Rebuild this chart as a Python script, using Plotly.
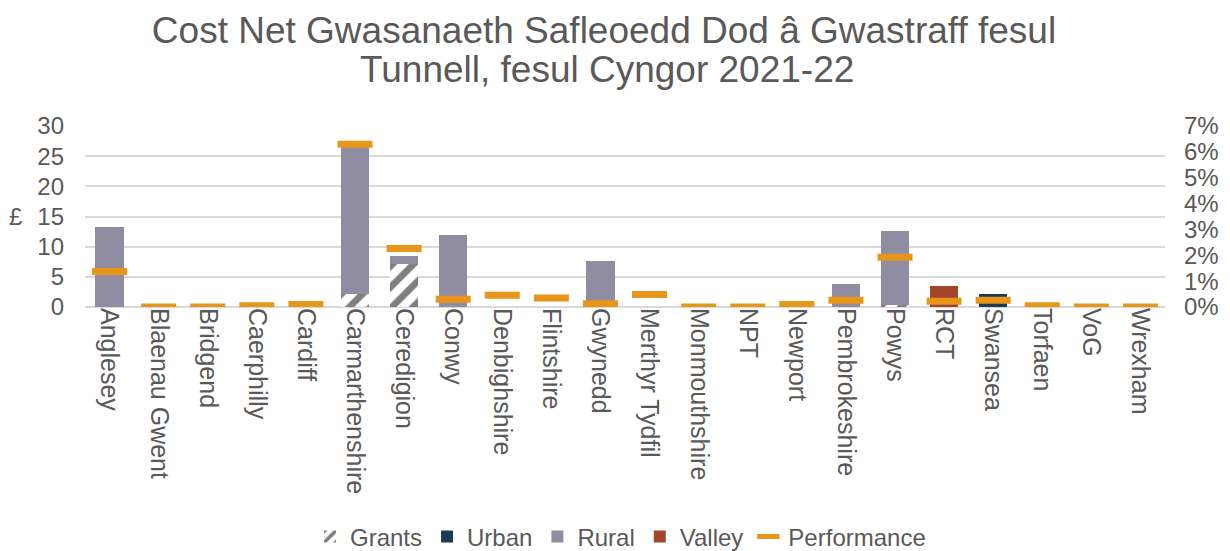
import plotly.graph_objects as go

councils = ["Anglesey", "Blaenau Gwent", "Bridgend", "Caerphilly", "Cardiff",
            "Carmarthenshire", "Ceredigion", "Conwy", "Denbighshire", "Flintshire",
            "Gwynedd", "Merthyr Tydfil", "Monmouthshire", "NPT", "Newport",
            "Pembrokeshire", "Powys", "RCT", "Swansea", "Torfaen", "VoG", "Wrexham"]

# Net cost per tonne (£), split by council group
grants = [0, 0, 0, 0, 0, 2.2, 7.1, 0, 0, 0, 0, 0, 0, 0, 0, 0, 0.3, 0, 0, 0, 0, 0]
urban = [0, 0, 0, 0, 0, 0, 0, 0, 0, 0, 0, 0, 0, 0, 0, 0, 0, 0, 2.2, 0, 0, 0]
rural = [13.3, 0, 0, 0, 0, 25.2, 1.3, 12.0, 0, 0, 7.7, 0, 0, 0, 0, 3.8, 12.25, 0, 0, 0, 0, 0]
valley = [0, 0, 0, 0, 0, 0, 0, 0, 0, 0, 0, 0, 0, 0, 0, 0, 0, 3.5, 0, 0, 0, 0]

# Performance (share), plotted on the right axis
performance = [0.0137, 0.0, 0.0, 0.0005, 0.001, 0.0629, 0.0226, 0.003, 0.0045, 0.0035,
               0.0013, 0.0048, 0.0, 0.0, 0.001, 0.0026, 0.0192, 0.0022, 0.0026, 0.0005,
               0.0, 0.0]

title_lines = ["Cost Net Gwasanaeth Safleoedd Dod â Gwastraff fesul",
               "Tunnell, fesul Cyngor 2021-22"]

FONT = "Liberation Sans, Arial, sans-serif"
TXT = "#595959"
W, H = 1230, 551
LEFT, RIGHT, TOP, BOTTOM = 85, 65, 126, 244
PLOT_W = W - LEFT - RIGHT
PLOT_H = H - TOP - BOTTOM
TITLE_CX = 604  # horizontal centre of the two title lines, px

fig = go.Figure()
fig.add_trace(go.Bar(
    name="Grants", x=councils, y=grants,
    marker=dict(color="white",
                pattern=dict(shape="/", fgcolor="#7F7F7F", bgcolor="white",
                             fgopacity=1, size=15, solidity=0.45),
                line=dict(width=0)),
))
fig.add_trace(go.Bar(name="Urban", x=councils, y=urban,
                     marker=dict(color="#1F3A56", line=dict(width=0))))
fig.add_trace(go.Bar(name="Rural", x=councils, y=rural,
                     marker=dict(color="#908DA2", line=dict(width=0))))
fig.add_trace(go.Bar(name="Valley", x=councils, y=valley,
                     marker=dict(color="#A2432A", line=dict(width=0))))
fig.add_trace(go.Scatter(
    name="Performance", x=councils, y=performance, yaxis="y2", mode="markers",
    marker=dict(symbol="line-ew", size=25, color="#E8961A",
                line=dict(color="#E8961A", width=7)),
))

fig.update_layout(
    width=W, height=H,
    barmode="stack", bargap=0.42,
    paper_bgcolor="white", plot_bgcolor="white",
    font=dict(family=FONT, color=TXT, size=24),
    margin=dict(l=LEFT, r=RIGHT, t=TOP, b=BOTTOM, autoexpand=False),
    title=dict(text=title_lines[0], x=TITLE_CX / W, xanchor="center",
               y=1 - 30 / H, yanchor="middle",
               font=dict(family=FONT, size=37, color=TXT)),
    xaxis=dict(tickangle=90, showgrid=False, showline=False, ticks="",
               range=[-0.5, len(councils) - 0.5], automargin=False,
               tickfont=dict(size=25, color=TXT)),
    yaxis=dict(range=[0, 30], dtick=5, showgrid=True, gridcolor="#D9D9D9", gridwidth=1.5,
               zeroline=True, zerolinecolor="#D9D9D9", zerolinewidth=1.5,
               automargin=False, ticklabelstandoff=20,
               tickfont=dict(size=24, color=TXT)),
    yaxis2=dict(range=[0, 0.07], dtick=0.01, tickformat=".0%", overlaying="y",
                side="right", showgrid=False, zeroline=False, automargin=False,
                ticklabelstandoff=18, tickfont=dict(size=24, color=TXT)),
    legend=dict(orientation="h", x=(310 - LEFT) / PLOT_W, xanchor="left",
                y=-(537 - (H - BOTTOM)) / PLOT_H, yanchor="middle",
                font=dict(size=24, color=TXT), traceorder="normal"),
    annotations=[
        dict(text=title_lines[1], x=(TITLE_CX + 3 - LEFT) / PLOT_W, xref="paper",
             xanchor="center",
             y=(H - BOTTOM - 69) / PLOT_H, yref="paper", yanchor="middle",
             showarrow=False, font=dict(family=FONT, size=37, color=TXT)),
        dict(text="£", x=0, xref="paper", xanchor="right", xshift=-61,
             y=15, yref="y", showarrow=False,
             font=dict(size=24, color=TXT)),
    ],
    showlegend=True,
)

fig.write_html("out.html")
